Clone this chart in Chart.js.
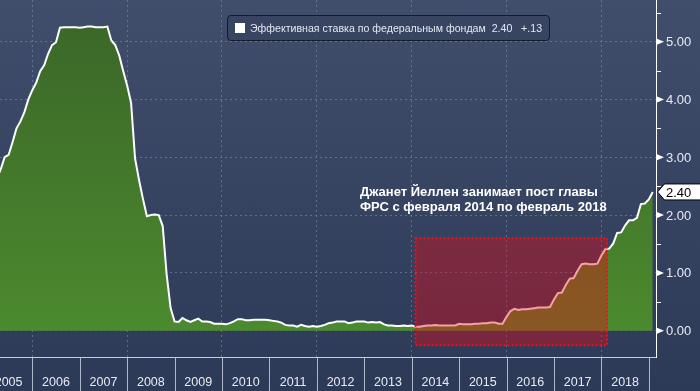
<!DOCTYPE html>
<html>
<head>
<meta charset="utf-8">
<script src="https://cdn.jsdelivr.net/npm/chart.js"></script>
<style>
  body { margin: 0; background: #2e3b59; }
  #wrap { position: relative; width: 700px; height: 391px; background: linear-gradient(#404e6b, #2c3957); overflow: hidden; }
  #legend {
    position: absolute; left: 227px; top: 15px; height: 24px; padding: 0 7px 0 7px;
    border: 1px solid #141b2b; border-radius: 4px; background: rgba(52, 64, 94, 0.6);
    font: 10.6px "Liberation Sans", sans-serif; color: #e4e8ee; line-height: 24px; white-space: pre;
  }
  #legend .sw { display: inline-block; width: 10px; height: 10px; background: #fff; vertical-align: -1px; margin-right: 5px; }
</style>
</head>
<body>
<div id="wrap">
  <canvas id="chart" width="700" height="391"></canvas>
  <div id="legend"></div>
</div>
<script>
// Effective federal funds rate, monthly, first value is March 2005
const firstYear = 2005;
const firstMonth = 3;
const rates = [
  2.63, 2.79, 3.00, 3.04, 3.26, 3.50, 3.62, 3.78, 4.00, 4.16,
  4.29, 4.49, 4.59, 4.79, 4.94, 4.99, 5.24, 5.25, 5.25, 5.25, 5.25, 5.24,
  5.25, 5.26, 5.26, 5.25, 5.25, 5.25, 5.26, 5.02, 4.94, 4.76, 4.49, 4.24,
  3.94, 2.98, 2.61, 2.28, 1.98, 2.00, 2.01, 2.00, 1.81, 0.97, 0.39, 0.16,
  0.15, 0.22, 0.18, 0.15, 0.18, 0.21, 0.16, 0.16, 0.15, 0.12, 0.12, 0.12,
  0.11, 0.13, 0.16, 0.20, 0.20, 0.18, 0.18, 0.19, 0.19, 0.19, 0.19, 0.18,
  0.17, 0.16, 0.14, 0.10, 0.09, 0.09, 0.07, 0.10, 0.08, 0.07, 0.08, 0.07,
  0.08, 0.10, 0.13, 0.14, 0.16, 0.16, 0.16, 0.13, 0.14, 0.16, 0.16, 0.16,
  0.14, 0.15, 0.14, 0.15, 0.11, 0.09, 0.09, 0.08, 0.08, 0.09, 0.08, 0.09,
  0.07, 0.07, 0.08, 0.09, 0.09, 0.10, 0.09, 0.09, 0.09, 0.09, 0.09, 0.12,
  0.11, 0.11, 0.11, 0.12, 0.12, 0.13, 0.13, 0.14, 0.14, 0.12, 0.12, 0.24,
  0.34, 0.38, 0.36, 0.37, 0.37, 0.38, 0.39, 0.40, 0.40, 0.40, 0.41, 0.54,
  0.65, 0.66, 0.79, 0.90, 0.91, 1.04, 1.15, 1.16, 1.15, 1.15, 1.16, 1.30,
  1.41, 1.42, 1.51, 1.69, 1.70, 1.82, 1.91, 1.91, 1.95, 2.19, 2.20, 2.27,
  2.40
];

const yearLabels = [2005, 2006, 2007, 2008, 2009, 2010, 2011, 2012, 2013, 2014, 2015, 2016, 2017, 2018];
const gridYears = [2006, 2008, 2010, 2012, 2014, 2016, 2018];
const yTicks = [0, 1, 2, 3, 4, 5];
const yTickLabels = ['0.00', '1.00', '2.00', '3.00', '4.00', '5.00'];

const seriesName = 'Эффективная ставка по федеральным фондам';
const lastValue = '2.40';
const lastChange = '+.13';

// Yellen's term: Feb 2014 - Feb 2018
const yellenFrom = 2014.08;
const yellenTo = 2018.12;
const noteLines = ['Джанет Йеллен занимает пост главы', 'ФРС с февраля 2014 по февраль 2018'];

// x value = year + month/12 (end of month)
const points = rates.map((v, i) => ({ x: firstYear + (firstMonth + i) / 12, y: v }));

document.getElementById('legend').innerHTML =
  '<span class="sw"></span>' + seriesName + '  ' + lastValue + '   ' + lastChange;

const decor = {
  id: 'decor',
  afterDatasetsDraw(chart) {
    const { ctx, chartArea: a, scales: { x, y } } = chart;
    ctx.save();

    // Yellen box
    const bx0 = x.getPixelForValue(yellenFrom);
    const bx1 = x.getPixelForValue(yellenTo);
    const by0 = y.getPixelForValue(1.6);
    const by1 = y.getPixelForValue(-0.25);
    ctx.fillStyle = 'rgba(240, 6, 18, 0.38)';
    ctx.fillRect(bx0, by0, bx1 - bx0, by1 - by0);
    ctx.setLineDash([2, 2]);
    ctx.lineWidth = 2;
    ctx.strokeStyle = '#e3161c';
    ctx.strokeRect(bx0, by0, bx1 - bx0, by1 - by0);
    ctx.setLineDash([]);

    // axis lines
    ctx.lineWidth = 1;
    ctx.strokeStyle = '#c8d0dc';
    ctx.beginPath();
    ctx.moveTo(0, a.bottom + 0.5);
    ctx.lineTo(a.right, a.bottom + 0.5);
    ctx.stroke();
    ctx.strokeStyle = '#ffffff';
    ctx.beginPath();
    ctx.moveTo(a.right + 0.5, a.top);
    ctx.lineTo(a.right + 0.5, a.bottom + 1);
    ctx.stroke();

    // year separators and labels
    ctx.strokeStyle = '#aeb8c8';
    ctx.fillStyle = '#e8ecf2';
    ctx.font = '12.5px "Liberation Sans", sans-serif';
    ctx.textAlign = 'center';
    ctx.textBaseline = 'middle';
    yearLabels.concat([2019]).forEach(yr => {
      const px = Math.round(x.getPixelForValue(yr)) + 0.5;
      ctx.beginPath();
      ctx.moveTo(px, a.bottom + 1);
      ctx.lineTo(px, chart.height);
      ctx.stroke();
    });
    yearLabels.forEach(yr => {
      ctx.fillText(String(yr), x.getPixelForValue(yr + 0.5), a.bottom + 26);
    });

    // y ticks: triangles, minor ticks, labels
    ctx.textAlign = 'left';
    ctx.font = '13px "Liberation Sans", sans-serif';
    ctx.fillStyle = '#ffffff';
    ctx.strokeStyle = '#ffffff';
    yTicks.forEach((v, i) => {
      const py = y.getPixelForValue(v);
      ctx.beginPath();
      ctx.moveTo(a.right + 1, py - 3);
      ctx.lineTo(a.right + 8, py);
      ctx.lineTo(a.right + 1, py + 3);
      ctx.closePath();
      ctx.fill();
      const pm = Math.round(y.getPixelForValue(v + 0.5)) + 0.5;
      ctx.beginPath();
      ctx.moveTo(a.right, pm);
      ctx.lineTo(a.right + 5, pm);
      ctx.stroke();
      ctx.fillStyle = '#e8ecf2';
      ctx.fillText(yTickLabels[i], a.right + 10, py + 1);
      ctx.fillStyle = '#ffffff';
    });

    // last value tag
    const pv = y.getPixelForValue(parseFloat(lastValue));
    ctx.beginPath();
    ctx.moveTo(a.right + 1.5, pv);
    ctx.lineTo(a.right + 8.5, pv - 8);
    ctx.lineTo(chart.width + 2, pv - 8);
    ctx.lineTo(chart.width + 2, pv + 8);
    ctx.lineTo(a.right + 8.5, pv + 8);
    ctx.closePath();
    ctx.fillStyle = '#ffffff';
    ctx.fill();
    ctx.strokeStyle = '#000000';
    ctx.stroke();
    ctx.fillStyle = '#000000';
    ctx.fillText(lastValue, a.right + 10, pv + 1);

    // note
    ctx.fillStyle = '#ffffff';
    ctx.font = 'bold 13px "Liberation Sans", sans-serif';
    const nx = x.getPixelForValue(2012.91);
    ctx.fillText(noteLines[0], nx, y.getPixelForValue(2.40));
    ctx.fillText(noteLines[1], nx, y.getPixelForValue(2.14));

    ctx.restore();
  }
};

new Chart(document.getElementById('chart'), {
  type: 'line',
  data: {
    datasets: [{
      data: points,
      borderColor: '#ffffff',
      borderWidth: 2,
      pointRadius: 0,
      tension: 0,
      fill: 'origin',
      backgroundColor(context) {
        const area = context.chart.chartArea;
        if (!area) return '#4a8a2f';
        const g = context.chart.ctx.createLinearGradient(0, area.top, 0, area.bottom);
        g.addColorStop(0, '#3a6528');
        g.addColorStop(1, '#4d8d2f');
        return g;
      }
    }]
  },
  options: {
    responsive: false,
    animation: false,
    layout: { padding: { left: 0, top: 0, right: 44, bottom: 34 } },
    plugins: { legend: { display: false }, tooltip: { enabled: false } },
    scales: {
      x: {
        type: 'linear',
        min: 2005.319,
        max: 2019.152,
        afterBuildTicks(scale) { scale.ticks = gridYears.map(v => ({ value: v })); },
        ticks: { display: false },
        grid: { color: 'rgba(120, 150, 185, 0.55)', drawTicks: false },
        border: { display: false, dash: [2, 3] }
      },
      y: {
        position: 'right',
        min: -0.455,
        max: 5.72,
        afterBuildTicks(scale) { scale.ticks = yTicks.map(v => ({ value: v })); },
        ticks: { display: false },
        grid: { color: 'rgba(120, 150, 185, 0.55)', drawTicks: false },
        border: { display: false, dash: [2, 3] }
      }
    }
  },
  plugins: [decor]
});
</script>
</body>
</html>
